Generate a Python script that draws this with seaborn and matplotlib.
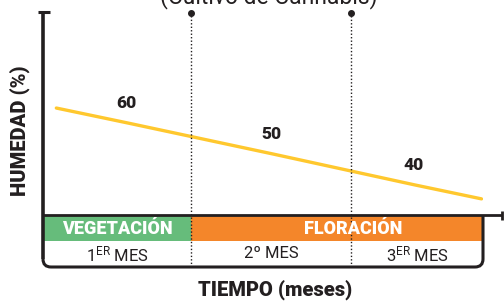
import numpy as np
import pandas as pd
import seaborn as sns
import matplotlib
matplotlib.use("Agg")
import matplotlib.pyplot as plt
from matplotlib.path import Path
from matplotlib.patches import PathPatch

# ---------------- data ----------------
tiempo = [0.09, 0.57, 1.55, 2.51, 2.96]          # months
humedad = [64.8, 60, 50, 40, 35.5]                # %
etiquetas_x = [0.57, 1.55, 2.51]
etiquetas_val = [60, 50, 40]
fases = ["VEGETACIÓN", "FLORACIÓN"]
fases_ini = [0.0, 1.0]
fases_fin = [1.0, 2.97]
meses = ["1$^{ER}$ MES", "2º MES", "3$^{ER}$ MES"]
meses_edges = [0.0, 1.0, 2.08, 2.97]
titulo = "(Cultivo de Cannabis)"
ylabel = "HUMEDAD (%)"
xlabel = "TIEMPO (meses)"

GREEN = "#66BC7B"
ORANGE = "#F4862A"
YELLOW = "#FFC82E"
DARK = "#231F20"

sns.set_style("white")
plt.rcParams["font.family"] = ["Roboto", "DejaVu Sans"]
plt.rcParams["mathtext.default"] = "regular"

W, H = 504, 301
fig = plt.figure(figsize=(W / 100, H / 100), dpi=100)

def fx(px):
    return px / W

def fy(py):
    return 1 - py / H

# main plot axes (pixels 43..483 x, 11..215 y)
ax = fig.add_axes([fx(43), fy(215), fx(440), (215 - 11) / H])
ax.set_xlim(0, 2.97)
ax.set_ylim(30.3, 96.1)
ax.axis("off")

df = pd.DataFrame({"tiempo": tiempo, "humedad": humedad})
sns.lineplot(data=df, x="tiempo", y="humedad", ax=ax, color=YELLOW,
             linewidth=2.4, legend=False)
for xv, v in zip(etiquetas_x, etiquetas_val):
    ax.annotate(str(v), xy=(xv, v), xytext=(-1, 20), textcoords="offset pixels",
                ha="center", va="center", fontsize=12.5, fontweight="black",
                color=DARK)

# band axes (pixels 215..267)
bx = fig.add_axes([fx(43), fy(267), fx(440), 52 / H])
bx.set_xlim(0, 2.97)
bx.set_ylim(2, 0)
bx.axis("off")
offsets = [0, 16]
for name, a, b, c, off in zip(fases, fases_ini, fases_fin, [GREEN, ORANGE], offsets):
    bx.barh(0.5, b - a, left=a, height=1.0, color=c, edgecolor="none")
    bx.annotate(name, xy=((a + b) / 2, 0.52), xytext=(off, 0),
                textcoords="offset pixels", ha="center", va="center",
                color="white", fontsize=13, fontweight="black")
for i, lab in enumerate(meses):
    c = (meses_edges[i] + meses_edges[i + 1]) / 2
    bx.text(c, 1.5, lab, ha="center", va="center", color=DARK, fontsize=12)

# dotted month separators
top_frac = (215 - 13) / 204
for e in meses_edges[1:3]:
    ax.axvline(e, ymin=0, ymax=top_frac, color=DARK, lw=1,
               ls=(0, (1, 1.5)), clip_on=False)
    bx.axvline(e, color=DARK, lw=1, ls=(0, (1, 1.5)), clip_on=False)
    ax.plot([e], [30.3 + top_frac * (96.1 - 30.3)], "o",
            color=DARK, ms=4, clip_on=False)

# overlay for frame decorations in pixel space
ov = fig.add_axes([0, 0, 1, 1], facecolor="none")
ov.set_xlim(0, W)
ov.set_ylim(H, 0)
ov.axis("off")
# y axis with top cap
ov.plot([43, 43], [11, 259], color=DARK, lw=2.6, solid_capstyle="butt")
ov.plot([38, 50], [11.5, 11.5], color=DARK, lw=2.2, solid_capstyle="butt")
# x axis line with end cap
ov.plot([43, 502], [215, 215], color=DARK, lw=2, solid_capstyle="butt")
ov.plot([502, 502], [210.5, 219.5], color=DARK, lw=2, solid_capstyle="butt")
# rounded bottom box
verts = [(43, 259), (43, 267), (51, 267), (475, 267), (483, 267), (483, 259),
         (483, 215)]
codes = [Path.MOVETO, Path.CURVE3, Path.CURVE3, Path.LINETO, Path.CURVE3,
         Path.CURVE3, Path.LINETO]
ov.add_patch(PathPatch(Path(verts, codes), fill=False, edgecolor=DARK, lw=2.2))

# texts
ov.text(269, 3.5, titulo, ha="center", va="baseline", fontsize=16.5, color=DARK)
ov.text(20, 131, ylabel, ha="center", va="center", rotation=90, fontsize=14.5,
        fontweight="black", color=DARK)
ov.text(275, 290, xlabel, ha="center", va="center", fontsize=14.5,
        fontweight="black", color=DARK)

fig.savefig("out.png", dpi=100)
